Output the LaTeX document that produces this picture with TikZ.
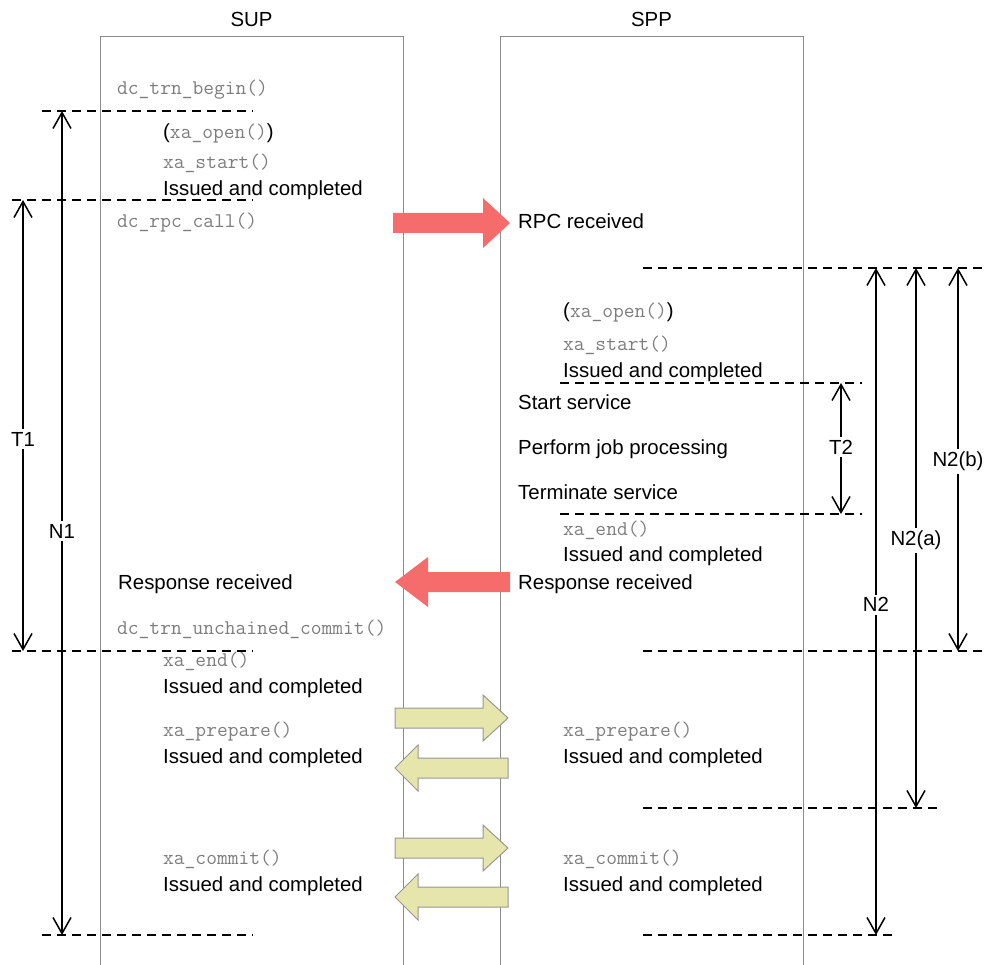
\documentclass[tikz,border=0pt]{standalone}
\usepackage{fontspec}
\setmainfont{Liberation Sans}
\usetikzlibrary{arrows.meta}
\definecolor{codegray}{RGB}{125,125,125}
\definecolor{framegray}{RGB}{140,140,140}
\definecolor{callred}{RGB}{246,108,108}
\definecolor{xafill}{RGB}{230,230,172}
\definecolor{xaedge}{RGB}{150,150,150}
\newcommand{\cd}[1]{\textcolor{codegray}{\ttfamily\fontsize{20.9}{22}\selectfont #1}}
\begin{document}
\begin{tikzpicture}[x=1pt,y=-1pt,
  lbl/.style={anchor=base west,inner sep=0pt,font=\fontsize{20.4}{24}\selectfont},
  code/.style={anchor=base west,inner sep=0pt,text=codegray,font=\ttfamily\fontsize{20.9}{22}\selectfont},
  head/.style={anchor=base,inner sep=0pt,font=\fontsize{20.4}{24}\selectfont},
  frame/.style={draw=framegray,line width=1pt},
  guide/.style={line width=1.5pt,dash pattern=on 9pt off 6pt},
  dim/.style={line width=1.5pt,{Straight Barb[length=16pt,width=18pt]}-{Straight Barb[length=16pt,width=18pt]}},
  dimlbl/.style={fill=white,inner sep=3pt,font=\fontsize{20.4}{24}\selectfont},
  redarrow/.style={fill=callred},
  xaarrow/.style={fill=xafill,draw=xaedge,line width=1pt}]
\useasboundingbox (0,0) rectangle (998,965);

% process frames
\draw[frame] (100,965) -- (100,37) -- (403,37) -- (403,965);
\draw[frame] (500,965) -- (500,37) -- (803,37) -- (803,965);
\node[head] (sup) at (251.5,27) {SUP};
\node[head] (spp) at (651.5,27) {SPP};

% SUP side
\node[code] (sbegin) at (117,95) {dc\_trn\_begin()};
\node[lbl] (sopen) at (163,139) {(\cd{xa\_open()})};
\node[code] (sstart) at (163,169) {xa\_start()};
\node[lbl] (sstartok) at (163,196) {Issued and completed};
\node[code] (srpc) at (117,228) {dc\_rpc\_call()};
\node[lbl] (sresp) at (118,589) {Response received};
\node[code] (scommit) at (117,634) {dc\_trn\_unchained\_commit()};
\node[code] (send) at (163,666) {xa\_end()};
\node[lbl] (sendok) at (163,693) {Issued and completed};
\node[code] (sprep) at (163,736) {xa\_prepare()};
\node[lbl] (sprepok) at (163,763) {Issued and completed};
\node[code] (scom) at (163,864) {xa\_commit()};
\node[lbl] (scomok) at (163,891) {Issued and completed};

% SPP side
\node[lbl] (prpc) at (518,229) {RPC received};
\node[lbl] (popen) at (563,318) {(\cd{xa\_open()})};
\node[code] (pstart) at (563,351) {xa\_start()};
\node[lbl] (pstartok) at (563,377) {Issued and completed};
\node[lbl] (psvc) at (518,409) {Start service};
\node[lbl] (pjob) at (518,454) {Perform job processing};
\node[lbl] (pterm) at (518,499) {Terminate service};
\node[code] (pend) at (563,535) {xa\_end()};
\node[lbl] (pendok) at (563,561) {Issued and completed};
\node[lbl] (presp) at (518,589) {Response received};
\node[code] (pprep) at (563,736) {xa\_prepare()};
\node[lbl] (pprepok) at (563,763) {Issued and completed};
\node[code] (pcom) at (563,864) {xa\_commit()};
\node[lbl] (pcomok) at (563,891) {Issued and completed};

% RPC call and response
\fill[redarrow] (393,213) -- (483,213) -- (483,198) -- (510,223) -- (483,248) -- (483,233) -- (393,233) -- cycle;
\fill[redarrow] (510,572) -- (428,572) -- (428,557) -- (395,582) -- (428,607) -- (428,592) -- (510,592) -- cycle;

% two-phase commit exchange
\draw[xaarrow] (395,708) -- (483,708) -- (483,695) -- (508,718) -- (483,741) -- (483,728) -- (395,728) -- cycle;
\draw[xaarrow] (508,758) -- (418,758) -- (418,745) -- (395,768) -- (418,791) -- (418,778) -- (508,778) -- cycle;
\draw[xaarrow] (395,838) -- (483,838) -- (483,825) -- (508,848) -- (483,871) -- (483,858) -- (395,858) -- cycle;
\draw[xaarrow] (508,887) -- (418,887) -- (418,874) -- (395,897) -- (418,920) -- (418,907) -- (508,907) -- cycle;

% timing boundaries
\coordinate (a1) at (42,111);  \coordinate (a2) at (253,111);
\coordinate (b1) at (12,200);  \coordinate (b2) at (253,200);
\coordinate (c1) at (643,268); \coordinate (c2) at (985,268);
\coordinate (d1) at (560,383); \coordinate (d2) at (862,383);
\coordinate (e1) at (560,514); \coordinate (e2) at (862,514);
\coordinate (f1) at (12,651);  \coordinate (f2) at (253,651);
\coordinate (g1) at (643,651); \coordinate (g2) at (985,651);
\coordinate (h1) at (643,808); \coordinate (h2) at (940,808);
\coordinate (i1) at (42,935);  \coordinate (i2) at (253,935);
\coordinate (j1) at (643,935); \coordinate (j2) at (897,935);
\foreach \p in {a,b,c,d,e,f,g,h,i,j} \draw[guide] (\p1) -- (\p2);

% interval markers
\draw[dim] (23,200) -- (23,651) node[dimlbl,pos=0.53] (T1) {T1};
\draw[dim] (62,111) -- (62,935) node[dimlbl,pos=0.51] (N1) {N1};
\draw[dim] (841,383) -- (841,514) node[dimlbl,pos=0.49] (T2) {T2};
\draw[dim] (876,268) -- (876,935) node[dimlbl,pos=0.505] (N2) {N2};
\draw[dim] (916,268) -- (916,808) node[dimlbl,pos=0.505] (N2a) {N2(a)};
\draw[dim] (958,268) -- (958,651) node[dimlbl,pos=0.505] (N2b) {N2(b)};
\end{tikzpicture}
\end{document}
